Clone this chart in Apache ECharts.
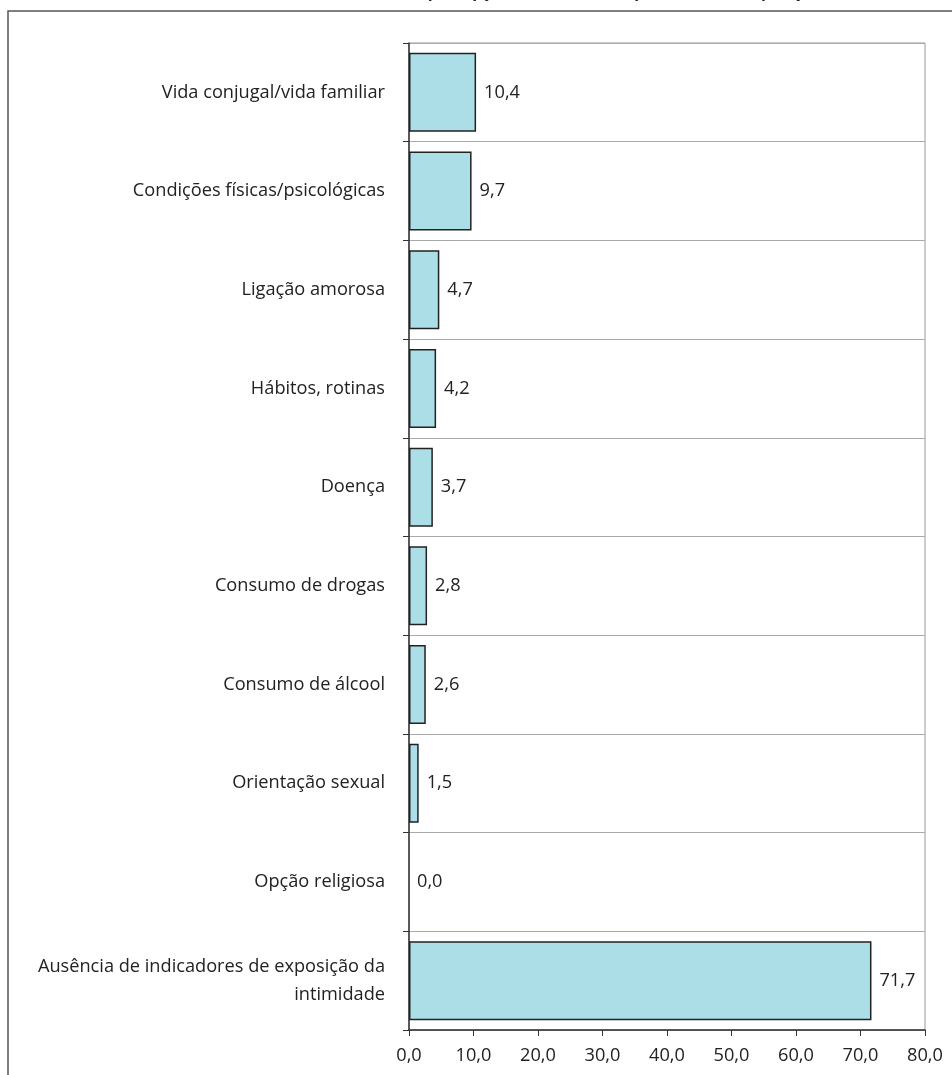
<!DOCTYPE html>
<html><head><meta charset="utf-8">
<script src="https://cdn.jsdelivr.net/npm/echarts@6/dist/echarts.min.js"></script>
<style>html,body{margin:0;padding:0;background:#fff}#c{width:952px;height:1075px}</style>
</head><body><div id="c"></div>
<script>
const categories = [
  "Vida conjugal/vida familiar",
  "Condições físicas/psicológicas",
  "Ligação amorosa",
  "Hábitos, rotinas",
  "Doença",
  "Consumo de drogas",
  "Consumo de álcool",
  "Orientação sexual",
  "Opção religiosa",
  "Ausência de indicadores de exposição da\nintimidade"
];
const values = [10.4, 9.7, 4.7, 4.2, 3.7, 2.8, 2.6, 1.5, 0.0, 71.7];
const xTicks = [0, 10, 20, 30, 40, 50, 60, 70, 80];
const titleText = "Fatores da percepção da intimidade, por forma de exposição (%)";

const fmt = v => v.toFixed(1).replace('.', ',');
const FONT = "'Open Sans', 'Noto Sans', sans-serif";
const FS = 18.2;
const chart = echarts.init(document.getElementById('c'), null, {renderer: 'canvas'});
chart.setOption({
  animation: false,
  backgroundColor: '#fff',
  grid: {left: 409, right: 27, top: 43, bottom: 45, show: true, borderColor: '#999', borderWidth: 1},
  xAxis: {
    type: 'value', min: xTicks[0], max: xTicks[xTicks.length - 1], interval: 10,
    axisLine: {show: true, lineStyle: {color: '#333', width: 1.5}},
    axisTick: {show: true, length: 6, lineStyle: {color: '#333'}},
    splitLine: {show: false},
    axisLabel: {formatter: v => fmt(v), color: '#222', fontSize: FS, fontFamily: FONT, margin: 17}
  },
  yAxis: {
    type: 'category', data: categories, inverse: true,
    axisLine: {show: true, lineStyle: {color: '#333', width: 1.5}},
    axisTick: {show: true, length: 6, lineStyle: {color: '#333'}},
    splitLine: {show: true, lineStyle: {color: '#aaa', width: 1}},
    axisLabel: {color: '#222', fontSize: FS, fontFamily: FONT, margin: 24, align: 'right', lineHeight: 28}
  },
  series: [{
    type: 'bar',
    data: values.map(v => v === 0 ? {value: v, itemStyle: {borderWidth: 0}} : v),
    barWidth: '80%',
    itemStyle: {color: '#acdee7', borderColor: '#222', borderWidth: 1.5},
    label: {show: true, position: 'right', distance: 8, formatter: p => fmt(p.value), color: '#222', fontSize: FS, fontFamily: FONT}
  }],
  graphic: [
    {type: 'rect', shape: {x: 8, y: 11, width: 1000, height: 1200}, style: {fill: 'none', stroke: '#555', lineWidth: 1.5}, silent: true},
    {type: 'text', x: 851, y: -16, style: {text: titleText, font: "bold 16px " + FONT, fill: '#222', align: 'right', verticalAlign: 'top'}, silent: true}
  ]
});
</script></body></html>
